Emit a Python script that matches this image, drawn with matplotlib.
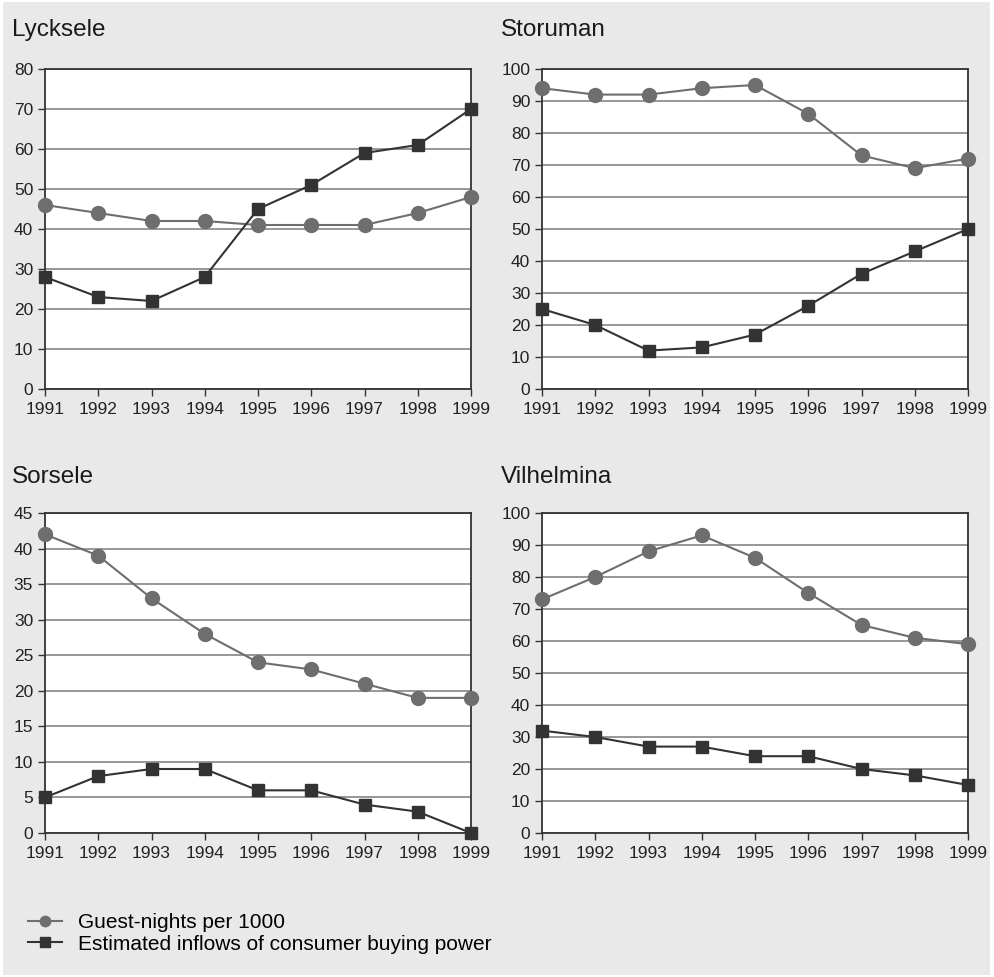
import matplotlib
matplotlib.use("Agg")
import matplotlib.pyplot as plt
from matplotlib.patches import Rectangle
from matplotlib.lines import Line2D

plt.rcParams['font.family'] = ['Liberation Sans', 'DejaVu Sans']

years = [1991, 1992, 1993, 1994, 1995, 1996, 1997, 1998, 1999]

towns = ['Lycksele', 'Storuman', 'Sorsele', 'Vilhelmina']

lycksele_guest = [46, 44, 42, 42, 41, 41, 41, 44, 48]
lycksele_buying = [28, 23, 22, 28, 45, 51, 59, 61, 70]

storuman_guest = [94, 92, 92, 94, 95, 86, 73, 69, 72]
storuman_buying = [25, 20, 12, 13, 17, 26, 36, 43, 50]

sorsele_guest = [42, 39, 33, 28, 24, 23, 21, 19, 19]
sorsele_buying = [5, 8, 9, 9, 6, 6, 4, 3, 0]

vilhelmina_guest = [73, 80, 88, 93, 86, 75, 65, 61, 59]
vilhelmina_buying = [32, 30, 27, 27, 24, 24, 20, 18, 15]

y_max = [80, 100, 45, 100]
y_step = [10, 10, 5, 10]

legend_labels = ['Guest-nights per 1000', 'Estimated inflows of consumer buying power']

guest_color = '#6e6e6e'
buying_color = '#333333'
bg_color = '#e9e9e9'

W, H = 995, 977
fig = plt.figure(figsize=(W / 100, H / 100), dpi=100)
fig.patch.set_facecolor('white')
fig.patches.append(Rectangle((3 / W, 2 / H), 987 / W, 973 / H, transform=fig.transFigure,
                             facecolor=bg_color, edgecolor='none', zorder=-10))

series = [(lycksele_guest, lycksele_buying), (storuman_guest, storuman_buying),
          (sorsele_guest, sorsele_buying), (vilhelmina_guest, vilhelmina_buying)]

# pixel positions of the panels (left, top)
lefts = [45, 542, 45, 542]
tops = [69, 69, 513, 513]
title_x = [12, 501, 12, 501]
title_y = [30, 30, 477, 477]
pw, ph = 426, 320

for i, town in enumerate(towns):
    ax = fig.add_axes([lefts[i] / W, 1 - (tops[i] + ph) / H, pw / W, ph / H])
    ax.set_facecolor('white')
    guest, buying = series[i]
    ax.plot(years, guest, color=guest_color, lw=1.5, marker='o', ms=10,
            markerfacecolor=guest_color, markeredgecolor=guest_color, zorder=3, clip_on=False)
    ax.plot(years, buying, color=buying_color, lw=1.5, marker='s', ms=9,
            markerfacecolor=buying_color, markeredgecolor=buying_color, zorder=4, clip_on=False)
    ax.set_xlim(years[0], years[-1])
    ax.set_ylim(0, y_max[i])
    ax.set_xticks(years)
    ax.set_yticks(range(0, y_max[i] + 1, y_step[i]))
    ax.yaxis.grid(True, color='#858585', lw=1.2)
    ax.set_axisbelow(True)
    for s in ax.spines.values():
        s.set_color('#333333')
        s.set_linewidth(1.3)
    ax.tick_params(axis='both', direction='out', length=5, width=1, color='#333333',
                   labelsize=12.5, labelcolor='#222222', pad=3.5)
    ax.tick_params(axis='x', pad=4.5)
    fig.text(title_x[i] / W, 1 - title_y[i] / H, town, fontsize=17.5, color='#1a1a1a',
             ha='left', va='center')

handles = [Line2D([], [], color=guest_color, lw=1.5, marker='o', ms=7.5),
           Line2D([], [], color=buying_color, lw=1.5, marker='s', ms=6.5)]
fig.legend(handles, legend_labels, loc='upper left', bbox_to_anchor=(28 / W, 1 - 913 / H),
           frameon=False, fontsize=15, handlelength=1.65, handletextpad=0.75,
           labelspacing=0.12, borderpad=0, borderaxespad=0)

fig.savefig('out.png', dpi=100)
